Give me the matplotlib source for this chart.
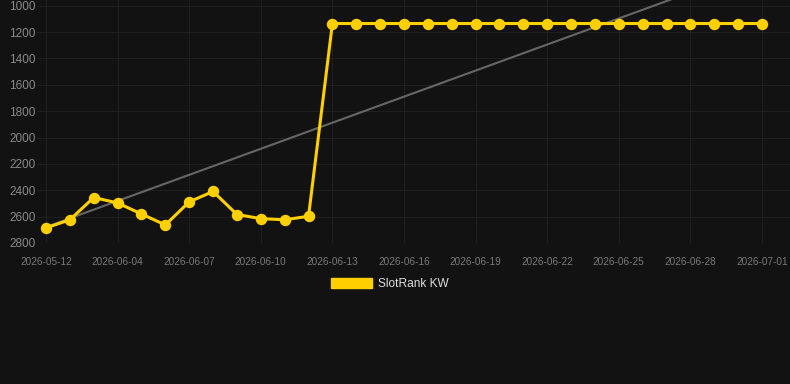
import numpy as np
import matplotlib.pyplot as plt
from matplotlib.patches import Patch

plt.rcParams["font.family"] = ["Liberation Sans", "DejaVu Sans"]

# daily rank values (lower is better, y axis inverted)
dates = ["2026-05-12", "2026-06-02", "2026-06-03", "2026-06-04", "2026-06-05",
         "2026-06-06", "2026-06-07", "2026-06-08", "2026-06-09", "2026-06-10",
         "2026-06-11", "2026-06-12", "2026-06-13", "2026-06-14", "2026-06-15",
         "2026-06-16", "2026-06-17", "2026-06-18", "2026-06-19", "2026-06-20",
         "2026-06-21", "2026-06-22", "2026-06-23", "2026-06-24", "2026-06-25",
         "2026-06-26", "2026-06-27", "2026-06-28", "2026-06-29", "2026-06-30",
         "2026-07-01"]
ranks = [2685, 2624, 2455, 2496, 2580, 2663, 2488, 2409, 2584, 2615,
         2624, 2597, 1135, 1135, 1135, 1135, 1135, 1135, 1135, 1135,
         1135, 1135, 1135, 1135, 1135, 1135, 1135, 1135, 1135, 1135,
         1135]
y_ticks = [1000, 1200, 1400, 1600, 1800, 2000, 2200, 2400, 2600, 2800]

bg = "#121212"
grid = "#1f1f1f"
yellow = "#FFD000"

x = np.arange(len(ranks))
slope, intercept = np.polyfit(x, ranks, 1)

fig = plt.figure(figsize=(7.9, 3.84), dpi=100, facecolor=bg)
ax = fig.add_axes([37 / 790, 1 - 243 / 384, 753 / 790, 243 / 384])
ax.set_facecolor(bg)

ax.plot(x, slope * x + intercept, color="#666666", linewidth=1.5, zorder=2)
ax.plot(x, ranks, color=yellow, linewidth=2.2, marker="o", markersize=7.2,
        zorder=3)

px = (762 - 46) / 30
ax.set_xlim(-9 / px, 30 + 28 / px)
ax.set_ylim(2800, 1000 - 5.7 / 26.3 * 200)
ax.set_yticks(y_ticks)
ax.set_xticks(x[::3])
ax.set_xticklabels(dates[::3])

ax.grid(True, color=grid, linewidth=0.8)
ax.set_axisbelow(True)
for s in ax.spines.values():
    s.set_visible(False)
ax.tick_params(axis="both", length=0)
ax.tick_params(axis="y", labelsize=8.5, labelcolor="#8a8a8a", pad=1)
ax.tick_params(axis="x", labelsize=7.2, labelcolor="#7a7a7a", pad=10)

fig.legend(handles=[Patch(facecolor=yellow, edgecolor=yellow, label="SlotRank KW")],
           loc="center", bbox_to_anchor=(390 / 790, 1 - 284 / 384),
           frameon=False, fontsize=8.6, labelcolor="#dddddd",
           handlelength=3.4, handleheight=0.9, handletextpad=0.5)

fig.savefig("out.png", dpi=100, facecolor=bg)
